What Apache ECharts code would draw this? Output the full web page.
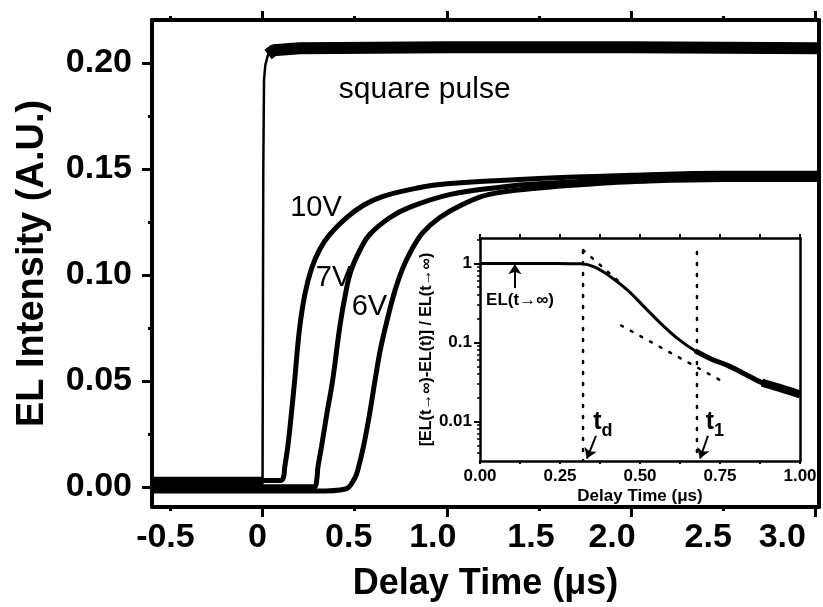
<!DOCTYPE html>
<html><head><meta charset="utf-8">
<script src="https://cdn.jsdelivr.net/npm/echarts@6/dist/echarts.min.js"></script>
<style>html,body{margin:0;padding:0;background:#fff}#c{width:823px;height:607px}</style>
</head><body><div id="c"></div>
<script>
// ---------- tick values ----------
const xTickLabels = [-0.5, 0, 0.5, 1.0, 1.5, 2.0, 2.5, 3.0];
const xMajorTicks = [0, 1, 2, 3];
const yTickLabels = [0, 0.05, 0.10, 0.15, 0.20];
const yMinorTicks = [0.025, 0.075, 0.125, 0.175];
const insetXLabels = [0, 0.25, 0.5, 0.75, 1.0];
const insetXTicks = [0, 0.125, 0.25, 0.375, 0.5, 0.625, 0.75, 0.875, 1.0];
const insetYLabels = [0.01, 0.1, 1];
const insetYMinor = [0.004,0.005,0.006,0.007,0.008,0.009,0.02,0.03,0.04,0.05,0.06,0.07,0.08,0.09,0.2,0.3,0.4,0.5,0.6,0.7,0.8,0.9,2];

// ---------- main traces [t (us), EL intensity] ----------
const squarePulse = [[-0.6,0.001],[-0.002,0.001],[0,0.002],[0.004,0.15],[0.008,0.192],[0.015,0.199],[0.03,0.204],[0.06,0.206],[0.2,0.207],[1.0,0.2075],[2.0,0.2075],[3.02,0.207]];
const curve10V = [[-0.6,0.003],[0.0,0.003],[0.10,0.003],[0.115,0.005],[0.12,0.009],[0.137,0.019],[0.157,0.035],[0.174,0.05],[0.20,0.074],[0.23,0.091],[0.266,0.103],[0.31,0.112],[0.364,0.119],[0.456,0.127],[0.55,0.133],[0.65,0.137],[0.84,0.141],[1.0,0.143],[1.5,0.1455],[2.0,0.147],[2.5,0.148],[3.02,0.148]];
const curve7V = [[-0.6,0.0],[0.28,0.0],[0.295,0.004],[0.30,0.009],[0.32,0.019],[0.35,0.035],[0.38,0.05],[0.42,0.076],[0.45,0.091],[0.48,0.102],[0.53,0.112],[0.58,0.119],[0.69,0.127],[0.8,0.132],[1.02,0.138],[1.3,0.1415],[1.5,0.143],[2.0,0.145],[2.5,0.146],[3.02,0.146]];
const curve6V = [[-0.6,-0.002],[0.3,-0.002],[0.45,-0.001],[0.50,0.004],[0.52,0.009],[0.55,0.02],[0.58,0.034],[0.61,0.05],[0.64,0.065],[0.68,0.08],[0.72,0.093],[0.76,0.103],[0.81,0.112],[0.87,0.120],[0.96,0.127],[1.08,0.133],[1.23,0.138],[1.5,0.141],[1.8,0.143],[2.0,0.144],[2.5,0.145],[3.02,0.145]];
// annotation anchors [t, value, text, font size]
const mainLabels = [[0.88,0.1873,'square pulse',30],[0.29,0.1316,'10V',29],[0.385,0.0986,'7V',29],[0.58,0.0849,'6V',29]];

// ---------- inset: normalised decay ----------
const insetCurve = [[0,1.0],[0.1,1.0],[0.2,1.0],[0.28,0.995],[0.315,0.99],[0.357,0.905],[0.409,0.675],[0.462,0.457],[0.514,0.28],[0.567,0.171],[0.619,0.111],[0.672,0.0785],[0.724,0.0615],[0.777,0.0506],[0.829,0.0397],[0.881,0.031],[0.934,0.0268],[1.0,0.022]];
const tangentFast = [[0.322,1.48],[0.45,0.52]];
const tangentSlow = [[0.441,0.164],[0.755,0.0326]];
const tdLine = [[0.322,1.44],[0.322,0.00317]];
const t1Line = [[0.678,1.40],[0.678,0.00317]];
const elInfArrow = [[0.109,0.49],[0.109,0.98]];
const tdArrow = [[0.3625,0.0066],[0.334,0.0034]];
const t1Arrow = [[0.7125,0.0066],[0.6875,0.0034]];
const insetLabels = [[0.125,0.345,'EL(t→∞)'],[0.384,0.0099,'{a|t}{b|d}'],[0.734,0.0099,'{a|t}{b|1}']];

// ---------- layout / style constants ----------
const FONT = 'Liberation Sans, Arial, sans-serif';
const MAIN = {left:152, top:20, width:667, height:487, outerBoundsMode:'none', containLabel:false};
const INSET = {left:480, top:238, width:320, height:223, outerBoundsMode:'none', containLabel:false};
const XR = [-0.6, 3.02], YR = [-0.0095, 0.2203], IYR = [0.003162, 2.1];
const BK = '#000';
// right padding (px) per bottom tick label, shifts each label left like the original artwork
const xLabelPad = [10, 10, 12, 28, 16, 38, 30, 66];

const hidden = {show:false};
const noLine = {show:false, onZero:false};
function mainX(grid, pos, opts){
  return Object.assign({type:'value', gridIndex:grid, position:pos, min:XR[0], max:XR[1],
    splitLine:hidden, axisLabel:hidden, axisLine:noLine}, opts);
}
function mainY(grid, pos, opts){
  return Object.assign({type:'value', gridIndex:grid, position:pos, min:YR[0], max:YR[1],
    splitLine:hidden, axisLabel:hidden, axisLine:noLine, axisTick:hidden}, opts);
}
const thickLine = {show:true, onZero:false, lineStyle:{color:BK, width:4}};
const insetLine = {show:true, onZero:false, lineStyle:{color:BK, width:2.5}};

const xRich = {};
xLabelPad.forEach((p, i) => { xRich['p' + i] = {padding:[0, p, 0, 0], fontSize:34, fontWeight:'bold', fontFamily:FONT, color:BK}; });
function xLabelFmt(v){
  const i = xTickLabels.findIndex(t => Math.abs(t - v) < 1e-9);
  const txt = v === 0 ? '0' : v.toFixed(1);
  return i < 0 ? txt : '{p' + i + '|' + txt + '}';
}

const chart = echarts.init(document.getElementById('c'), null, {renderer:'canvas'});
const lineS = (data, w, extra) => Object.assign({type:'line', xAxisIndex:0, yAxisIndex:0, data:data, symbol:'none',
  smooth:0.4, lineStyle:{color:BK, width:w}, z:2, silent:true, animation:false}, extra||{});
const insetS = (data, w, extra) => Object.assign({type:'line', xAxisIndex:4, yAxisIndex:4, data:data, symbol:'none',
  lineStyle:{color:BK, width:w}, z:5, silent:true, animation:false}, extra||{});
const dotted = {type:[2,9], color:BK, width:2.5, cap:'round'};
const arrowML = (pts, size) => ({silent:true, symbol:['none','arrow'], symbolSize:size, label:hidden,
  lineStyle:{color:BK, width:2, type:'solid'}, animation:false,
  data:[[{coord:pts[0]},{coord:pts[1]}]]});
const labelBase = {show:true, position:'inside', color:BK, fontFamily:FONT, textBorderWidth:0, textBorderColor:'transparent',
  textShadowBlur:0, opacity:1};

const option = {
  backgroundColor:'#fff',
  animation:false,
  grid:[
    Object.assign({}, MAIN),
    Object.assign({}, MAIN),
    Object.assign({}, INSET),
    Object.assign({}, INSET),
    Object.assign({}, INSET)
  ],
  xAxis:[
    mainX(0,'bottom',{axisLine:thickLine,
      axisTick:{show:true, customValues:xTickLabels, length:4, lineStyle:{color:BK,width:3}},
      axisLabel:{show:true, customValues:xTickLabels, margin:14, color:BK, fontSize:34, fontWeight:'bold', fontFamily:FONT,
        formatter:xLabelFmt, rich:xRich},
      name:'Delay Time (μs)', nameLocation:'middle', nameGap:59,
      nameTextStyle:{color:BK, fontSize:36, fontWeight:'bold', fontFamily:FONT}}),
    mainX(0,'top',{axisLine:thickLine,
      axisTick:{show:true, customValues:xTickLabels, length:4, lineStyle:{color:BK,width:3}}}),
    mainX(1,'bottom',{axisTick:{show:true, customValues:xMajorTicks, length:10, lineStyle:{color:BK,width:3}}}),
    mainX(1,'top',{axisTick:{show:true, customValues:xMajorTicks, length:9, lineStyle:{color:BK,width:3}}}),
    {type:'value', gridIndex:2, position:'bottom', min:0, max:1, z:6, splitLine:hidden, axisLine:insetLine,
      axisTick:{show:true, customValues:insetXTicks, length:3, lineStyle:{color:BK,width:2}},
      axisLabel:{show:true, customValues:insetXLabels, margin:7, color:BK, fontSize:17, fontWeight:'bold', fontFamily:FONT,
        formatter:v => v.toFixed(2)},
      name:'Delay Time (μs)', nameLocation:'middle', nameGap:27,
      nameTextStyle:{color:BK, fontSize:17, fontWeight:'bold', fontFamily:FONT}},
    {type:'value', gridIndex:2, position:'top', min:0, max:1, z:6, splitLine:hidden, axisLine:insetLine, axisLabel:hidden,
      axisTick:{show:true, customValues:insetXTicks, length:4, lineStyle:{color:BK,width:2}}},
    {type:'value', gridIndex:3, position:'bottom', min:0, max:1, show:false},
    {type:'value', gridIndex:4, position:'bottom', min:0, max:1, show:false}
  ],
  yAxis:[
    mainY(0,'left',{axisLine:thickLine,
      axisTick:{show:true, customValues:yTickLabels, length:10, lineStyle:{color:BK,width:3}},
      axisLabel:{show:true, customValues:yTickLabels, margin:20, color:BK, fontSize:34, fontWeight:'bold', fontFamily:FONT,
        formatter:v => v.toFixed(2)},
      name:'EL Intensity (A.U.)', nameLocation:'middle', nameGap:100,
      nameTextStyle:{color:BK, fontSize:38, fontWeight:'bold', fontFamily:FONT}}),
    mainY(0,'right',{axisLine:thickLine}),
    mainY(1,'left',{axisTick:{show:true, customValues:yMinorTicks, length:4, lineStyle:{color:BK,width:3}}}),
    {type:'log', logBase:10, gridIndex:2, position:'left', min:IYR[0], max:IYR[1], z:6, splitLine:hidden, axisLine:insetLine,
      axisTick:{show:true, customValues:insetYLabels, length:6, lineStyle:{color:BK,width:2}},
      axisLabel:{show:true, customValues:insetYLabels, margin:8, color:BK, fontSize:17, fontWeight:'bold', fontFamily:FONT,
        formatter:v => String(parseFloat(v.toPrecision(2)))},
      name:'[EL(t→∞)-EL(t)] / EL(t→∞)', nameLocation:'middle', nameGap:39,
      nameTextStyle:{color:BK, fontSize:16, fontWeight:'bold', fontFamily:FONT}},
    {type:'log', logBase:10, gridIndex:2, position:'right', min:IYR[0], max:IYR[1], z:6, splitLine:hidden, axisLine:insetLine,
      axisTick:hidden, axisLabel:hidden},
    {type:'log', logBase:10, gridIndex:3, position:'left', min:IYR[0], max:IYR[1], z:6, splitLine:hidden, axisLine:noLine,
      axisLabel:hidden, axisTick:{show:true, customValues:insetYMinor, length:3, lineStyle:{color:BK,width:1.5}}},
    {type:'log', logBase:10, gridIndex:4, position:'left', min:IYR[0], max:IYR[1], z:6, show:false}
  ],
  graphic:[{type:'rect', z:3, silent:true, shape:{x:INSET.left, y:INSET.top, width:INSET.width, height:INSET.height}, style:{fill:'#fff'}}],
  series:[
    // main traces
    lineS(squarePulse, 2.5, {smooth:false}),
    lineS(squarePulse.filter(p => p[0] >= 0.03), 12, {smooth:false}),
    lineS(squarePulse.filter(p => p[0] <= -0.002), 16, {smooth:false}),
    lineS(curve10V, 5),
    lineS(curve7V, 5),
    lineS(curve6V, 5),
    {type:'scatter', xAxisIndex:0, yAxisIndex:0, z:2, silent:true, animation:false, symbolSize:0,
      itemStyle:{color:BK, opacity:0},
      data:mainLabels.map(d => ({value:[d[0], d[1]], label:{fontSize:d[3]}, name:d[2]})),
      label:Object.assign({}, labelBase, {formatter:p => p.name})},
    // inset
    insetS(insetCurve, 3, {smooth:0.4}),
    insetS(insetCurve.filter(p => p[0] >= 0.66), 5, {smooth:0.4}),
    insetS(insetCurve.filter(p => p[0] >= 0.86), 8, {smooth:0.4}),
    insetS(tangentFast, 2.5, {lineStyle:dotted}),
    insetS(tangentSlow, 2.5, {lineStyle:dotted}),
    insetS(tdLine, 2.5, {lineStyle:dotted}),
    insetS(t1Line, 2.5, {lineStyle:dotted, markLine:arrowML(t1Arrow, 10)}),
    insetS(elInfArrow, 0, {lineStyle:{width:0, opacity:0}, markLine:arrowML(elInfArrow, 10)}),
    insetS(tdArrow, 0, {lineStyle:{width:0, opacity:0}, markLine:arrowML(tdArrow, 10)}),
    {type:'scatter', xAxisIndex:4, yAxisIndex:4, z:6, silent:true, animation:false, symbolSize:0,
      itemStyle:{color:BK, opacity:0},
      data:insetLabels.map(d => ({value:[d[0], d[1]], name:d[2]})),
      label:Object.assign({}, labelBase, {fontWeight:'bold', fontSize:17,
        formatter:p => p.name,
        rich:{a:{fontSize:25, fontWeight:'bold', fontFamily:FONT, color:BK, verticalAlign:'bottom'},
              b:{fontSize:18, fontWeight:'bold', fontFamily:FONT, color:BK, verticalAlign:'bottom', padding:[0,0,-6,0]}}})}
  ]
};
chart.setOption(option);
</script></body></html>
